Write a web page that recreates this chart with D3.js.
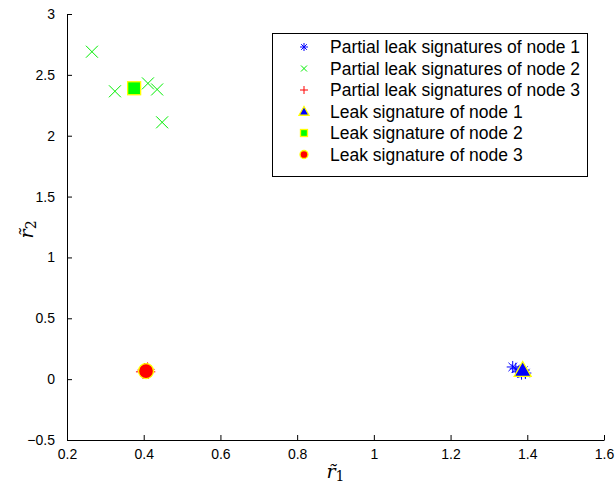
<!DOCTYPE html>
<html>
<head>
<meta charset="utf-8">
<script src="https://cdn.jsdelivr.net/npm/d3@7"></script>
<style>
  body { margin: 0; background: #fff; }
  text { font-family: "Liberation Sans", Arial, sans-serif; }
</style>
</head>
<body>
<svg id="chart" width="615" height="488"></svg>
<script>
// partial leak signatures
const node1Partial = [[1.362, 0.10], [1.37, 0.085], [1.378, 0.06], [1.39, 0.07], [1.395, 0.05], [1.385, 0.045]]
const node2Partial = [[0.265, 2.69], [0.325, 2.365], [0.411, 2.43], [0.435, 2.38], [0.448, 2.11]]
const node3Partial = [[0.402, 0.075], [0.412, 0.06], [0.398, 0.06], [0.41, 0.08]]
// leak signatures
const node1Leak = [1.388, 0.075]
const node2Leak = [0.375, 2.39]
const node3Leak = [0.406, 0.066]

const xTicks = [0.2, 0.4, 0.6, 0.8, 1, 1.2, 1.4, 1.6]
const yTicks = [-0.5, 0, 0.5, 1, 1.5, 2, 2.5, 3]
const legendLabels = [
    "Partial leak signatures of node 1",
    "Partial leak signatures of node 2",
    "Partial leak signatures of node 3",
    "Leak signature of node 1",
    "Leak signature of node 2",
    "Leak signature of node 3"
]

const SVG = d3.select("#chart")
const Margin = { top: 14, bottom: 48, left: 67, right: 11 }
const Width = 615, Height = 488

const xscale = d3.scaleLinear().domain([0.2, 1.6]).range([Margin.left, Width - Margin.right])
const yscale = d3.scaleLinear().domain([-0.5, 3]).range([Height - Margin.bottom, Margin.top])

const bottom = d3.axisBottom(xscale).tickValues(xTicks).tickSizeInner(-5).tickSizeOuter(0).tickPadding(9)
    .tickFormat(d => d3.format("")(d).replace("-", "\u2212"))
const left = d3.axisLeft(yscale).tickValues(yTicks).tickSizeInner(-5).tickSizeOuter(0).tickPadding(12)
    .tickFormat(d => d3.format("")(d).replace("-", "\u2212"))

const gx = SVG.append("g")
    .attr("transform", `translate(0, ${Height - Margin.bottom})`)
    .call(bottom)
const gy = SVG.append("g")
    .attr("transform", `translate(${Margin.left}, 0)`)
    .call(left)

for (const g of [gx, gy]) {
    g.selectAll("text").style("font-size", "14px").attr("fill", "#000")
    g.select(".domain").attr("stroke", "#000").attr("stroke-width", 1)
    g.selectAll("line").attr("stroke", "#000")
}
gx.selectAll("text").attr("dy", "0.71em")

// axis labels
const xl = SVG.append("text")
    .attr("transform", `translate(${xscale(0.9)}, 478)`)
    .attr("text-anchor", "middle")
    .style("font-family", "'DejaVu Serif', serif")
xl.append("tspan").text("r\u0303").style("font-style", "italic").style("font-size", "19px")
xl.append("tspan").text("1").style("font-size", "14px").attr("dy", 3)

const yl = SVG.append("text")
    .attr("transform", `translate(33, ${yscale(1.23)}) rotate(-90)`)
    .attr("text-anchor", "middle")
    .style("font-family", "'DejaVu Serif', serif")
yl.append("tspan").text("r\u0303").style("font-style", "italic").style("font-size", "19px")
yl.append("tspan").text("2").style("font-size", "14px").attr("dy", 3)

// marker drawers
function star(g, x, y, s, color) {
    const p = g.append("g").attr("transform", `translate(${x}, ${y})`).attr("stroke", color).attr("stroke-width", 1)
    for (const a of [0, 45, 90, 135]) {
        const r = a * Math.PI / 180
        p.append("line").attr("x1", -s * Math.cos(r)).attr("y1", -s * Math.sin(r)).attr("x2", s * Math.cos(r)).attr("y2", s * Math.sin(r))
    }
}
function cross(g, x, y, s, color) {
    const p = g.append("g").attr("transform", `translate(${x}, ${y})`).attr("stroke", color).attr("stroke-width", 1)
    p.append("line").attr("x1", -s).attr("y1", -s).attr("x2", s).attr("y2", s)
    p.append("line").attr("x1", -s).attr("y1", s).attr("x2", s).attr("y2", -s)
}
function plus(g, x, y, s, color) {
    const p = g.append("g").attr("transform", `translate(${x}, ${y})`).attr("stroke", color).attr("stroke-width", 1)
    p.append("line").attr("x1", -s).attr("y1", 0).attr("x2", s).attr("y2", 0)
    p.append("line").attr("x1", 0).attr("y1", -s).attr("x2", 0).attr("y2", s)
}
function tri(g, x, y, s, color) {
    g.append("path").attr("d", `M${x},${y - s} L${x + s},${y + s * 0.75} L${x - s},${y + s * 0.75} Z`)
        .attr("fill", color).attr("stroke", "#ffff00").attr("stroke-width", 1.3)
}
function square(g, x, y, s, color) {
    g.append("rect").attr("x", x - s).attr("y", y - s).attr("width", 2 * s).attr("height", 2 * s)
        .attr("fill", color).attr("stroke", "#ffff00").attr("stroke-width", 1.3)
}
function dot(g, x, y, s, color) {
    g.append("circle").attr("cx", x).attr("cy", y).attr("r", s)
        .attr("fill", color).attr("stroke", "#ffff00").attr("stroke-width", 1.3)
}

const plot = SVG.append("g")
node1Partial.forEach(d => star(plot, xscale(d[0]), yscale(d[1]), 6, "#0000ff"))
node2Partial.forEach(d => cross(plot, xscale(d[0]), yscale(d[1]), 6, "#00ee00"))
node3Partial.forEach(d => plus(plot, xscale(d[0]), yscale(d[1]), 7, "#ff0000"))
tri(plot, xscale(node1Leak[0]), yscale(node1Leak[1]), 8.5, "#0000ff")
square(plot, xscale(node2Leak[0]), yscale(node2Leak[1]), 6.5, "#00ff00")
dot(plot, xscale(node3Leak[0]), yscale(node3Leak[1]), 7.5, "#ff0000")

// legend
const lg = SVG.append("g")
lg.append("rect").attr("x", 272.5).attr("y", 33.5).attr("width", 315).attr("height", 143)
    .attr("fill", "#fff").attr("stroke", "#000").attr("stroke-width", 1)
const legendMarks = [
    (g, x, y) => star(g, x, y, 4, "#0000ff"),
    (g, x, y) => cross(g, x, y, 3, "#00ee00"),
    (g, x, y) => plus(g, x, y, 4, "#ff0000"),
    (g, x, y) => tri(g, x, y, 5, "#0000ff"),
    (g, x, y) => square(g, x, y, 3.5, "#00ff00"),
    (g, x, y) => dot(g, x, y, 4, "#ff0000")
]
legendLabels.forEach((label, i) => {
    const y = 47 + i * 21.5
    legendMarks[i](lg, 304, y)
    lg.append("text").text(label)
        .attr("x", 330).attr("y", y)
        .attr("dy", "0.35em")
        .style("font-size", "17.5px")
        .attr("fill", "#000")
})
</script>
</body>
</html>
